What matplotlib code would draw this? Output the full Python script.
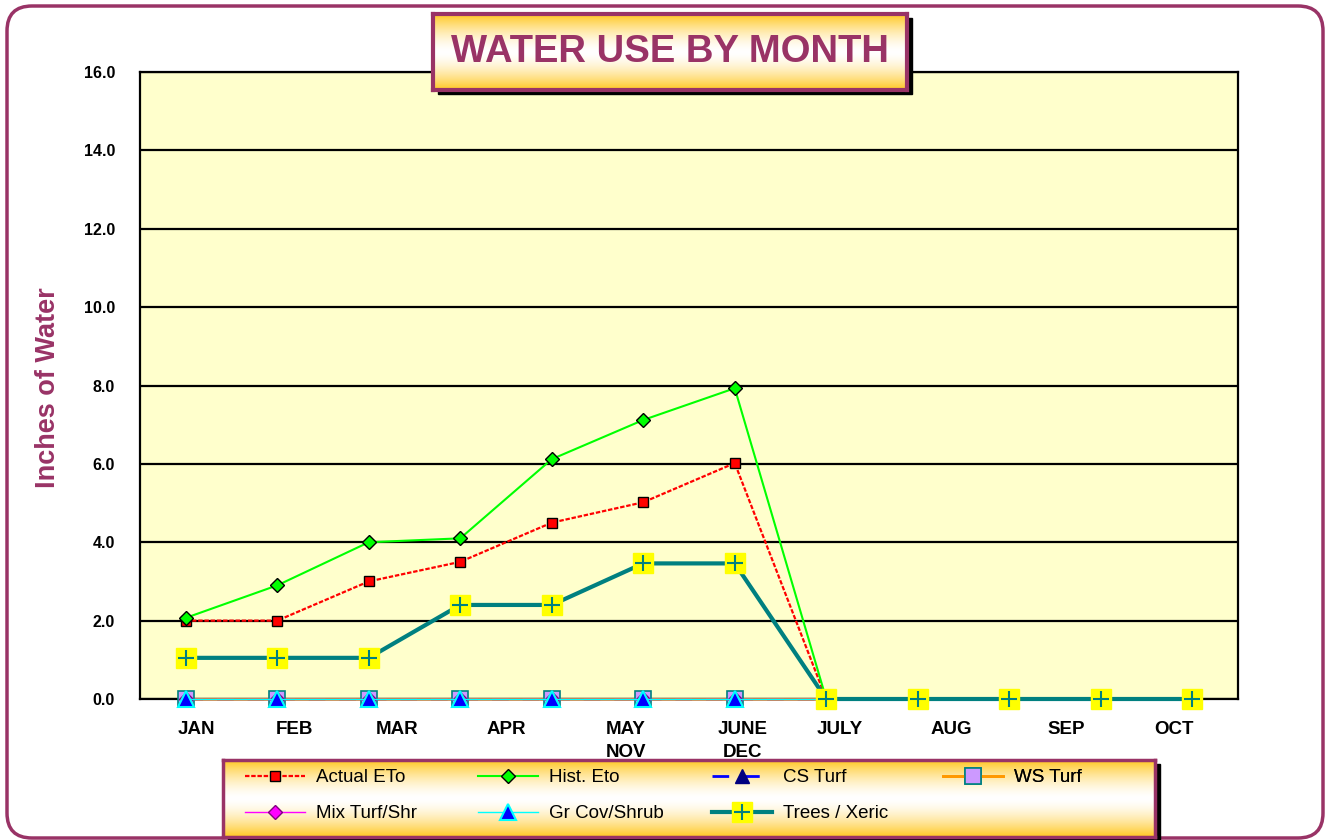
import numpy as np
import matplotlib.pyplot as plt
from matplotlib.patches import FancyBboxPatch, Rectangle
from matplotlib.legend_handler import HandlerTuple

plt.rcParams['font.family'] = ['Liberation Sans', 'DejaVu Sans']

# data
month_labels = ["JAN", "FEB", "MAR", "APR", "MAY\nNOV", "JUNE\nDEC",
                "JULY", "AUG", "SEP", "OCT"]
actual_eto = [2.0, 2.0, 3.0, 3.5, 4.5, 5.02, 6.02, 0.0]
hist_eto = [2.07, 2.9, 4.0, 4.1, 6.12, 7.12, 7.93, 0.0]
cs_turf = [0.0, 0.0, 0.0, 0.0, 0.0, 0.0, 0.0, 0.0]
ws_turf = [0.0, 0.0, 0.0, 0.0, 0.0, 0.0, 0.0, 0.0]
mix_turf = [0.0, 0.0, 0.0, 0.0, 0.0, 0.0, 0.0, 0.0]
gr_cov = [0.0, 0.0, 0.0, 0.0, 0.0, 0.0, 0.0, 0.0]
trees = [1.05, 1.05, 1.05, 2.4, 2.4, 3.46, 3.46, 0.0, 0.0, 0.0, 0.0, 0.0]

W, H = 1327, 840
PURPLE = '#993366'


def fbox(x0, y0, x1, y1):
    # pixel box (top-left origin) -> figure fraction rect
    return [x0 / W, 1 - y1 / H, (x1 - x0) / W, (y1 - y0) / H]


def gradient_box(fig, x0, y0, x1, y1, lw, z):
    sh = Rectangle(((x0 + 5) / W, 1 - (y1 + 4) / H), (x1 - x0) / W, (y1 - y0) / H,
                   transform=fig.transFigure, color='black', zorder=z - 0.5)
    fig.patches.append(sh)
    a = fig.add_axes(fbox(x0, y0, x1, y1), zorder=z)
    t = np.abs(np.linspace(-1, 1, 200)) ** 1.6
    gold = np.array([1.0, 0.78, 0.13])
    img = 1 - t[:, None] * (1 - gold[None, :])
    a.imshow(img[:, None, :], aspect='auto', extent=[0, 1, 0, 1])
    a.set_xlim(0, 1)
    a.set_ylim(0, 1)
    a.set_xticks([])
    a.set_yticks([])
    for s in a.spines.values():
        s.set_color(PURPLE)
        s.set_linewidth(lw)
    return a


fig = plt.figure(figsize=(W / 100, H / 100), dpi=100)

# outer rounded frame
frame = FancyBboxPatch((0.07, 0.02), 13.16, 8.32,
                       boxstyle="round,pad=0,rounding_size=0.25",
                       transform=fig.dpi_scale_trans, fc='white', ec=PURPLE,
                       lw=2.5, zorder=-5)
fig.patches.append(frame)

ax = fig.add_axes(fbox(140, 72, 1238, 699), zorder=0)
ax.set_facecolor('#FFFFCC')

x8 = np.arange(len(actual_eto))
x12 = np.arange(len(trees))

ax.plot(x8, actual_eto, color='#FF0000', ls=(0, (2, 0.8)), lw=1.6,
        marker='s', ms=7, mfc='#FF0000', mec='black', mew=1, clip_on=False,
        label='Actual ETo', zorder=3)
ax.plot(x8, hist_eto, color='#00FF00', lw=1.5, marker='D', ms=7,
        mfc='#00FF00', mec='black', mew=1, clip_on=False,
        label='Hist. Eto', zorder=3)
ax.plot(x8, cs_turf, color='#0000FF', ls=(0, (6, 5)), lw=2, marker='^',
        ms=10, mfc='#000080', mec='#000080', clip_on=False,
        label='CS Turf', zorder=3)
ax.plot(x8, ws_turf, color='#FF9900', lw=2, marker='s', ms=11,
        mfc='#CC99FF', mec='#008080', mew=1.2, clip_on=False,
        label='WS Turf', zorder=3)
ax.plot(x8, mix_turf, color='#FF00FF', lw=1, marker='D', ms=7,
        mfc='#FF00FF', mec='#800080', mew=1, clip_on=False,
        label='Mix Turf/Shr', zorder=3)
ax.plot(x8, gr_cov, color='#00FFFF', lw=1, marker='^', ms=11,
        mfc='#0000FF', mec='#00FFFF', mew=1.5, clip_on=False,
        label='Gr Cov/Shrub', zorder=3)
tl, = ax.plot(x12, trees, color='#008080', lw=3, clip_on=False, zorder=3)
ts, = ax.plot(x12, trees, ls='none', marker='s', ms=15, mfc='#FFFF00',
              mec='#FFFF00', clip_on=False, zorder=4)
tp, = ax.plot(x12, trees, ls='none', marker='+', ms=12, mec='#008080',
              mew=1.5, clip_on=False, zorder=5)

ax.set_xlim(-0.5, 11.5)
ax.set_ylim(0, 16)
ax.set_yticks(np.arange(0, 17, 2))
ax.set_yticklabels(['%.1f' % v for v in np.arange(0, 17, 2)],
                   fontsize=11.5, fontweight='bold')
ax.grid(axis='y', color='black', lw=1.6)
ax.set_axisbelow(True)
ax.tick_params(axis='y', length=0, pad=18)

# the month labels do not sit on the points in the original
label_pos = [0.12, 1.19, 2.31, 3.50, 4.81, 6.09, 7.15, 8.37, 9.62, 10.80]
ax.set_xticks(label_pos)
ax.set_xticklabels(month_labels, fontsize=13.5, fontweight='bold',
                   linespacing=1.45)
ax.tick_params(axis='x', length=0, pad=16)
for s in ax.spines.values():
    s.set_color('black')
    s.set_linewidth(1.6)

fig.text(48 / W, 1 - 388 / H, 'Inches of Water', rotation=90,
         ha='center', va='center', fontsize=19.5, fontweight='bold',
         color=PURPLE)

# title box
at = gradient_box(fig, 433, 14, 907, 90, 3, 2)
at.text(0.5, 0.5, 'WATER USE BY MONTH', ha='center', va='center',
        fontsize=27.5, fontweight='bold', color=PURPLE, transform=at.transAxes)

# legend box
al = gradient_box(fig, 223, 760, 1155, 837, 2.5, 2)
handles = ax.get_lines()
groups = [
    [(handles[0], 'Actual ETo'), (handles[4], 'Mix Turf/Shr')],
    [(handles[1], 'Hist. Eto'), (handles[5], 'Gr Cov/Shrub')],
    [(handles[2], 'CS Turf'), ((tl, ts, tp), 'Trees / Xeric')],
    [(handles[3], 'WS Turf')],
]
col_x = [245, 478, 712, 943]
for cx, grp in zip(col_x, groups):
    leg = al.legend([g[0] for g in grp], [g[1] for g in grp],
                    loc='upper left',
                    bbox_to_anchor=(cx / W, 1 - 769 / H),
                    bbox_transform=fig.transFigure, frameon=False,
                    fontsize=13.5, handlelength=3.2, handletextpad=0.6,
                    labelspacing=1.02, borderpad=0, borderaxespad=0,
                    handler_map={tuple: HandlerTuple(ndivide=1)})
    al.add_artist(leg)

fig.savefig('out.png', dpi=100)
